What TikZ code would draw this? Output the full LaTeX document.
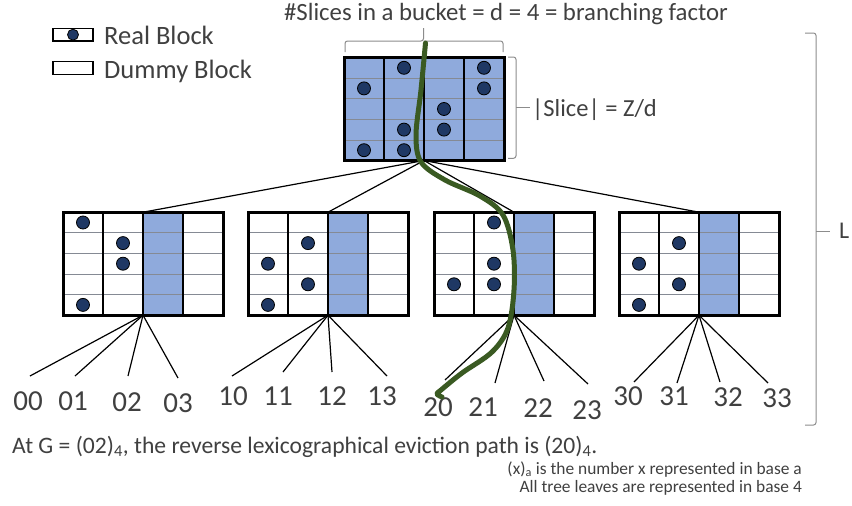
\documentclass[tikz,border=0pt]{standalone}
\usepackage{fontspec}
\setmainfont{Carlito}
\usetikzlibrary{calc}
\definecolor{sliceblue}{HTML}{8FAADC}
\definecolor{dotblue}{HTML}{1F3864}
\definecolor{pathgreen}{HTML}{3A5A22}
\definecolor{txt}{HTML}{404040}
\definecolor{bracegray}{HTML}{8C8C8C}
\definecolor{rowgray}{HTML}{858A94}
\tikzset{
  bucket/.style={minimum width=160pt, minimum height=103pt, inner sep=0pt, outer sep=0pt},
  frame/.style={line width=3pt, draw=black},
  divider/.style={line width=2.4pt, draw=black},
  rowline/.style={line width=0.8pt, draw=rowgray},
  realdot/.style={fill=dotblue, draw=black, line width=0.8pt},
  edge/.style={line width=1.2pt, draw=black},
  leaf/.style={font=\fontsize{29}{32}\selectfont, text=txt, inner sep=0pt},
  txtnode/.style={text=txt, inner sep=0pt},
  legbox/.style={draw=black, line width=1.4pt, minimum width=40pt, minimum height=12.5pt, inner sep=0pt},
  brace/.style={draw=bracegray, line width=1pt, rounded corners=2.5pt},
  evict/.style={draw=pathgreen, line width=5pt, line cap=round, line join=round},
}
\newcommand{\drawbucket}[4]{%
  \node[bucket] (#1) at (#2) {};
  \begin{scope}[shift={(#1.north west)}]
    \foreach \c in {#3} { \fill[sliceblue] ({40*(\c-1)},0) rectangle ({40*\c},103); }
    \foreach \r in {1,...,4} { \draw[rowline] (0,{20.6*\r}) -- (160,{20.6*\r}); }
    \foreach \c in {1,2,3} { \draw[divider] ({40*\c},0) -- ({40*\c},103); }
    \draw[frame] (0,0) rectangle (160,103);
    \foreach \c/\r in {#4} { \filldraw[realdot] ({40*\c-20},{20.6*\r-10.3}) circle (6.5pt); }
  \end{scope}}
\begin{document}
\begin{tikzpicture}[x=1pt,y=-1pt]
\fill[white] (0,0) rectangle (852,506);
\useasboundingbox (0,0) rectangle (852,506);

% legend
\node[legbox] (lg1) at (73,34.7) {};
\filldraw[realdot] (lg1.center) circle (5.5pt);
\node[txtnode, anchor=base west, font=\fontsize{26.5}{30}\selectfont] (lgt1) at (104,45) {Real Block};
\node[legbox] (lg2) at (73,68) {};
\node[txtnode, anchor=base west, font=\fontsize{26.5}{30}\selectfont] (lgt2) at (104,78.3) {Dummy Block};

% title
\node[txtnode, anchor=base, font=\fontsize{24.8}{28}\selectfont] (title) at (506,20.7) {\#Slices in a bucket = d = 4 = branching factor};

% buckets
\drawbucket{b0}{424,109}{1,2,3,4}{1/2,1/5,2/1,2/4,2/5,3/3,3/4,4/1,4/2}
\drawbucket{b1}{143,263.7}{3}{1/1,2/2,2/3,1/5}
\drawbucket{b2}{328,263.7}{3}{2/2,1/3,2/4,1/5}
\drawbucket{b3}{514,263.7}{3}{2/1,2/3,2/4,1/4}
\drawbucket{b4}{699,263.7}{3}{2/2,1/3,2/4,1/5}

% braces
\draw[brace] (345,52) -- (345,41) -- (423.5,41) -- (423.5,28);
\draw[brace] (423.5,41) -- (503,41) -- (503,52);
\draw[brace] (508,57) -- (516,57) -- (516,158.3) -- (508,158.3);
\draw[brace] (516,107.5) -- (530,107.5);
\node[txtnode, anchor=base west, font=\fontsize{24.5}{28}\selectfont] (slice) at (532,116) {|Slice| = Z/d};
\draw[brace] (805,33) -- (816,33) -- (816,425) -- (805,425);
\draw[brace] (816,231) -- (830,231);
\node[txtnode, anchor=west, font=\fontsize{24}{28}\selectfont] (Llbl) at (839,231) {L};

% tree edges
\foreach \k in {1,2,3,4} { \draw[edge] (b0.south) -- (b\k.north); }

% leaves
\node[leaf] (l00) at (28,401) {00};
\node[leaf] (l01) at (73,401) {01};
\node[leaf] (l02) at (127,402) {02};
\node[leaf] (l03) at (178,403) {03};
\node[leaf] (l10) at (233,396) {10};
\node[leaf] (l11) at (278,396) {11};
\node[leaf] (l12) at (332,396) {12};
\node[leaf] (l13) at (382,396) {13};
\node[leaf] (l20) at (438,407) {20};
\node[leaf] (l21) at (483,407) {21};
\node[leaf] (l22) at (538,408) {22};
\node[leaf] (l23) at (587,410) {23};
\node[leaf] (l30) at (628,396) {30};
\node[leaf] (l31) at (674,396) {31};
\node[leaf] (l32) at (728,397) {32};
\node[leaf] (l33) at (777,398) {33};

\coordinate (e00) at (30,376);  \coordinate (e01) at (75,376);
\coordinate (e02) at (128,376); \coordinate (e03) at (178,378);
\coordinate (e10) at (232,376); \coordinate (e11) at (283,372);
\coordinate (e12) at (332,372); \coordinate (e13) at (387,376);
\coordinate (e20) at (445,380); \coordinate (e21) at (495,383);
\coordinate (e22) at (544,381); \coordinate (e23) at (588,384);
\coordinate (e30) at (634,382); \coordinate (e31) at (677,383);
\coordinate (e32) at (720,382); \coordinate (e33) at (768,383);
\foreach \k in {1,2,3,4} {
  \pgfmathtruncatemacro{\p}{\k-1}
  \foreach \j in {0,1,2,3} { \draw[edge] (b\k.south) -- (e\p\j); }
}

% eviction path
\draw[evict] plot[smooth, tension=0.55] coordinates {(425.5,43) (421,90) (416,135) (421,162) (445,180) (480,196) (503,215) (513,250) (514,290) (508,328) (492,352) (462,373) (441,390) (437,394) (442,397)};

% bottom text
\node[txtnode, anchor=base west, font=\fontsize{23.6}{27}\selectfont] (gtext) at (12,453) {At G = (02)\textsubscript{4}, the reverse lexicographical eviction path is (20)\textsubscript{4}.};
\node[txtnode, anchor=base east, font=\fontsize{17.4}{19}\selectfont] (note1) at (802,474) {(x)\textsubscript{a} is the number x represented in base a};
\node[txtnode, anchor=base east, font=\fontsize{17.4}{19}\selectfont] (note2) at (802,492) {All tree leaves are represented in base 4};
\end{tikzpicture}
\end{document}
